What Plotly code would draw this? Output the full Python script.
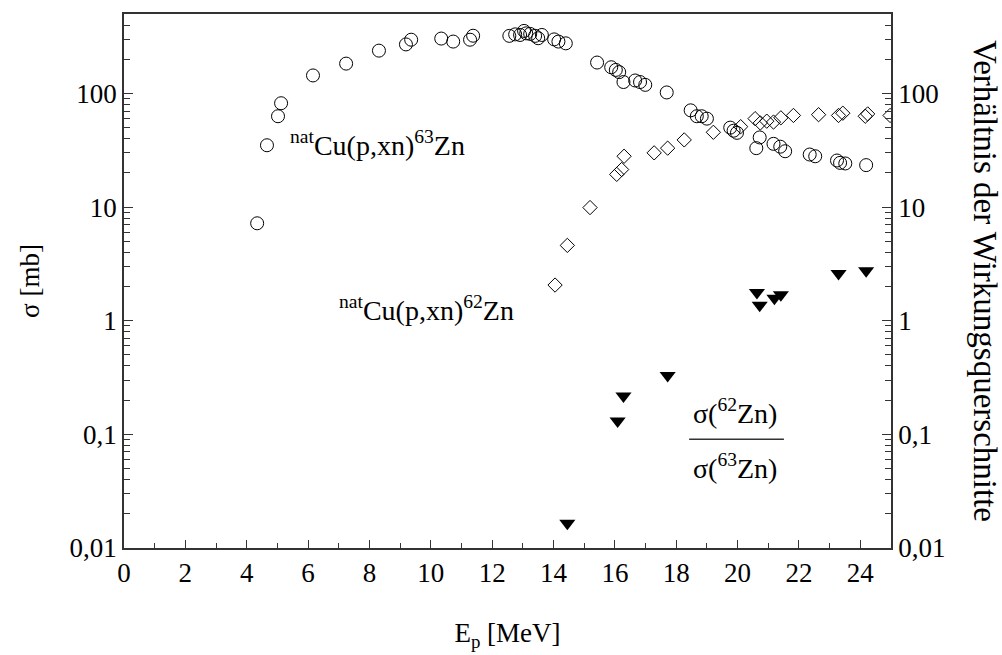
import math
import plotly.graph_objects as go

# 63Zn cross sections (circles)
e63 = [4.34, 4.66, 5.02, 5.12, 6.16, 7.24, 8.31, 9.19, 9.36, 10.34, 10.73, 11.28, 11.38,
       12.56, 12.75, 12.91, 13.04, 13.11, 13.24, 13.40, 13.50, 13.62, 14.02, 14.16, 14.40,
       15.42, 15.88, 16.03, 16.14, 16.28, 16.66, 16.82, 16.99, 17.69,
       18.47, 18.67, 18.83, 19.00, 19.76, 19.87, 19.98, 20.72, 20.61, 21.17, 21.39, 21.55,
       22.35, 22.53, 23.24, 23.34, 23.51, 24.19]
s63 = [7.2, 35, 63, 82, 144, 183, 238, 270, 297, 304, 286, 297, 322,
       321, 331, 327, 355, 338, 334, 321, 306, 327, 299, 286, 276,
       187, 170, 161, 154, 126, 130, 126, 119, 102,
       71, 63, 63, 60, 50, 47, 45, 41, 33, 36, 34, 31,
       29, 28, 25.7, 24.5, 24.2, 23.4]

# 62Zn cross sections (diamonds)
e62 = [14.05, 14.45, 15.19, 16.06, 16.22, 16.30, 17.28, 17.72, 18.26, 19.21, 20.10,
       20.57, 20.74, 20.95, 21.17, 21.41, 21.82, 22.64, 23.29, 23.43, 24.16, 24.24, 24.97]
s62 = [2.06, 4.6, 9.9, 19.4, 21.4, 28, 30, 33, 39, 45.5, 51,
       60, 55, 57, 56, 61, 64, 65, 64, 67, 63, 66, 64]

# ratio sigma(62Zn)/sigma(63Zn) (filled triangles, right axis)
eratio = [14.45, 16.09, 16.28, 17.72, 20.63, 20.72, 21.20, 21.41, 23.29, 24.19]
ratio = [0.0165, 0.131, 0.217, 0.33, 1.77, 1.37, 1.58, 1.69, 2.6, 2.75]

tickvals = [0.01, 0.1, 1, 10, 100]
ticktext = ["0,01", "0,1", "1", "10", "100"]
minor_vals = [m * 10.0 ** k for k in range(-2, 3) for m in range(2, 10) if m * 10.0 ** k <= 500]

FONT = "Liberation Serif, Times New Roman, serif"
AX = "#333333"
YRANGE = [-2, math.log10(500)]

fig = go.Figure()
fig.add_trace(go.Scatter(x=e63, y=s63, mode="markers", yaxis="y",
                         marker=dict(symbol="circle-open", size=13, color="black", line=dict(width=1)),
                         showlegend=False))
fig.add_trace(go.Scatter(x=e62, y=s62, mode="markers", yaxis="y",
                         marker=dict(symbol="diamond-open", size=11, color="black", line=dict(width=1)),
                         showlegend=False))
fig.add_trace(go.Scatter(x=eratio, y=ratio, mode="markers", yaxis="y2",
                         marker=dict(symbol="triangle-down", size=14, color="black", line=dict(width=0)),
                         showlegend=False))

yax_common = dict(type="log", range=YRANGE, tickvals=tickvals, ticktext=ticktext,
                  ticks="inside", ticklen=9, tickcolor=AX, showgrid=False, zeroline=False,
                  showline=True, linecolor=AX, linewidth=1.5,
                  tickfont=dict(family=FONT, size=27, color="black"),
                  minor=dict(tickvals=minor_vals, ticks="inside", ticklen=6, tickcolor=AX, showgrid=False))

fig.update_layout(
    width=1002, height=655,
    margin=dict(l=124, r=111, t=12, b=107),
    paper_bgcolor="white", plot_bgcolor="white",
    font=dict(family=FONT, color="black"),
    xaxis=dict(range=[0, 25], tickmode="array", tickvals=list(range(0, 25, 2)),
               ticks="inside", ticklen=8, tickcolor=AX, showgrid=False, zeroline=False,
               showline=True, linecolor=AX, linewidth=1.5, mirror=True,
               tickfont=dict(family=FONT, size=27, color="black"),
               minor=dict(tickvals=list(range(1, 25, 2)), ticks="inside", ticklen=5, tickcolor=AX, showgrid=False),
               title=dict(text="E<sub>p</sub> [MeV]", font=dict(family=FONT, size=27), standoff=36)),
    yaxis=dict(**yax_common, title=dict(text="σ [mb]", font=dict(family=FONT, size=27), standoff=22)),
    yaxis2=dict(**yax_common, overlaying="y", side="right"),
)

ann_font = dict(family=FONT, size=28, color="black")
L = math.log10
fig.add_annotation(x=5.35, y=L(36), xref="x", yref="y", xanchor="left", yanchor="middle",
                   text="<sup>nat</sup>Cu(p,xn)<sup>63</sup>Zn", showarrow=False, font=ann_font)
fig.add_annotation(x=6.95, y=L(1.28), xref="x", yref="y", xanchor="left", yanchor="middle",
                   text="<sup>nat</sup>Cu(p,xn)<sup>62</sup>Zn", showarrow=False, font=ann_font)
fig.add_annotation(x=19.9, y=L(0.16), xref="x", yref="y", xanchor="center", yanchor="middle",
                   text="σ(<sup>62</sup>Zn)", showarrow=False, font=ann_font)
fig.add_annotation(x=19.9, y=L(0.052), xref="x", yref="y", xanchor="center", yanchor="middle",
                   text="σ(<sup>63</sup>Zn)", showarrow=False, font=ann_font)
fig.add_shape(type="line", xref="x", yref="y", x0=18.42, x1=21.51, y0=0.0904, y1=0.0904,
              line=dict(color="#333333", width=1.5))
fig.add_annotation(x=1.0, xref="paper", xshift=94, xanchor="center", y=0.5, yref="paper",
                   yanchor="middle", textangle=90,
                   text="Verhältnis der Wirkungsquerschnitte", showarrow=False,
                   font=dict(family=FONT, size=33, color="black"))

fig.write_html("out.html")
